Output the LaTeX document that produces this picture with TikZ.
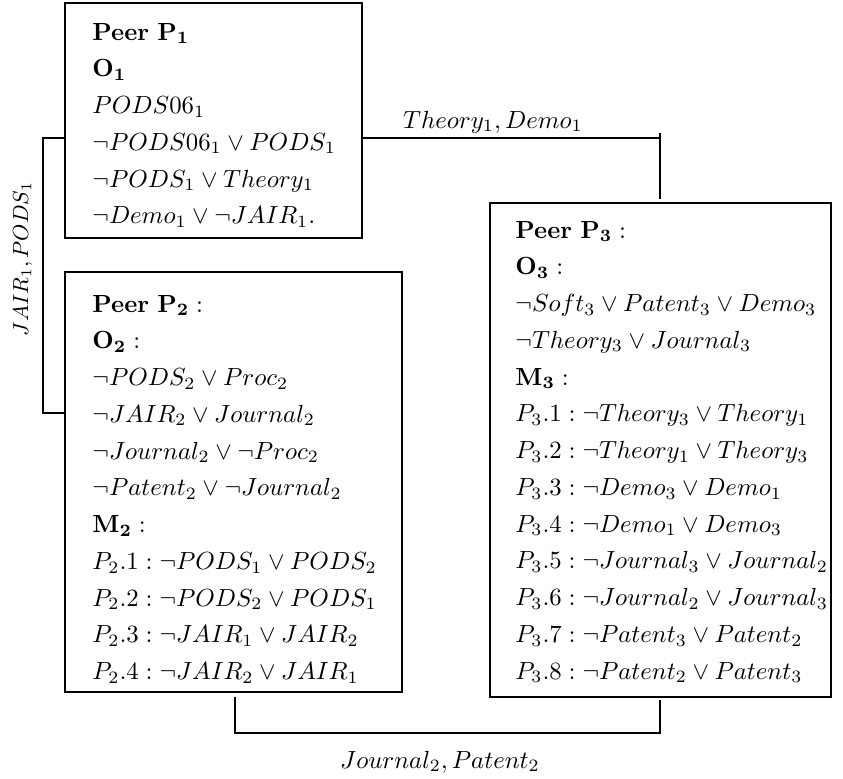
\documentclass[tikz,border=0pt]{standalone}
\usetikzlibrary{fit}
\begin{document}
\begin{tikzpicture}[x=0.4032pt, y=-0.4032pt,
  box/.style={draw, inner sep=0pt, line width=0.5pt},
  txt/.style={anchor=base west, inner sep=0pt},
  conn/.style={line width=0.45pt},
  lab/.style={inner sep=0pt, anchor=base}]
\useasboundingbox (0,0) rectangle (843,779);
\def\rowsep{1.235}
% boxes
\node[box, fit={(65,3) (362,238)}] (p1) {};
\node[box, fit={(65,272) (402,692)}] (p2) {};
\node[box, fit={(490,203) (831,697)}] (p3) {};
% texts
\node[txt] (p1t) at (92,40) {\def\arraystretch{\rowsep}\begin{tabular}[t]{@{}l@{}}
\textbf{Peer} $\mathbf{P_1}$\\
$\mathbf{O_1}$\\
$PODS06_1$\\
$\neg PODS06_1 \vee PODS_1$\\
$\neg PODS_1 \vee Theory_1$\\
$\neg Demo_1 \vee \neg JAIR_1.$
\end{tabular}};
\node[txt] (p2t) at (92,312) {\def\arraystretch{\rowsep}\begin{tabular}[t]{@{}l@{}}
\textbf{Peer} $\mathbf{P_2}:$\\
$\mathbf{O_2}:$\\
$\neg PODS_2 \vee Proc_2$\\
$\neg JAIR_2 \vee Journal_2$\\
$\neg Journal_2 \vee \neg Proc_2$\\
$\neg Patent_2 \vee \neg Journal_2$\\
$\mathbf{M_2}:$\\
$P_2.1 : \neg PODS_1 \vee PODS_2$\\
$P_2.2 : \neg PODS_2 \vee PODS_1$\\
$P_2.3 : \neg JAIR_1 \vee JAIR_2$\\
$P_2.4 : \neg JAIR_2 \vee JAIR_1$
\end{tabular}};
\node[txt] (p3t) at (515,238) {\def\arraystretch{\rowsep}\begin{tabular}[t]{@{}l@{}}
\textbf{Peer} $\mathbf{P_3}:$\\
$\mathbf{O_3}:$\\
$\neg Soft_3 \vee Patent_3 \vee Demo_3$\\
$\neg Theory_3 \vee Journal_3$\\
$\mathbf{M_3}:$\\
$P_3.1 : \neg Theory_3 \vee Theory_1$\\
$P_3.2 : \neg Theory_1 \vee Theory_3$\\
$P_3.3 : \neg Demo_3 \vee Demo_1$\\
$P_3.4 : \neg Demo_1 \vee Demo_3$\\
$P_3.5 : \neg Journal_3 \vee Journal_2$\\
$P_3.6 : \neg Journal_2 \vee Journal_3$\\
$P_3.7 : \neg Patent_3 \vee Patent_2$\\
$P_3.8 : \neg Patent_2 \vee Patent_3$
\end{tabular}};
% left connector
\coordinate (l1) at (43,138);
\coordinate (l2) at (43,413);
\draw[conn] (p1.west |- l1) -- (l1) -- (l2) -- (p2.west |- l2);
% top connector
\coordinate (t1) at (660,138);
\coordinate (t0) at (660,133);
\coordinate (t2) at (660,199);
\draw[conn] (p1.east |- t1) -- (t1);
\draw[conn] (t0) -- (t2);
% bottom connector
\coordinate (b1) at (235,697);
\coordinate (b2) at (235,733);
\coordinate (b3) at (660,733);
\coordinate (b4) at (660,700);
\draw[conn] (b1) -- (b2) -- (b3) -- (b4);
% labels
\node[lab] (lt) at (493,128) {$Theory_1, Demo_1$};
\node[lab] (lb) at (440,768) {$Journal_2, Patent_2$};
\node[lab, rotate=90, scale=0.88] (ll) at (28,259) {$JAIR_1, PODS_1$};
\end{tikzpicture}
\end{document}
